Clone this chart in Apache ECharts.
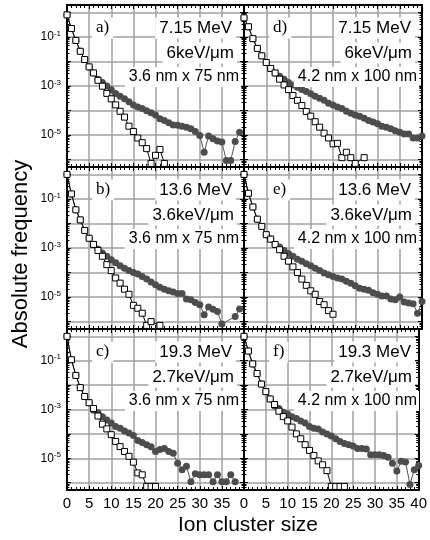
<!DOCTYPE html>
<html>
<head>
<meta charset="utf-8">
<script src="https://cdn.jsdelivr.net/npm/echarts@6/dist/echarts.min.js"></script>
<style>
  html, body { margin: 0; padding: 0; background: #fff; }
  #chart { width: 430px; height: 540px; }
</style>
</head>
<body>
<div id="chart"></div>
<script>
// ion cluster size (x)
const clusterSize = [0, 1, 2, 3, 4, 5, 6, 7, 8, 9, 10, 11, 12, 13, 14, 15, 16, 17, 18, 19, 20,
  21, 22, 23, 24, 25, 26, 27, 28, 29, 30, 31, 32, 33, 34, 35, 36, 37, 38, 39, 40];

// panel texts
const panelLetters = ["a)", "b)", "c)", "d)", "e)", "f)"];
const energies = ["7.15 MeV", "13.6 MeV", "19.3 MeV"];
const letValues = ["6keV/\u03bcm", "3.6keV/\u03bcm", "2.7keV/\u03bcm"];
const volumes = ["3.6 nm x 75 nm", "4.2 nm x 100 nm"];
const yLabelExps = [-1, -3, -5];

// open squares
const sqA = [0.79, 0.22, 0.072, 0.026, 0.012, 6.0e-3, 3.4e-3, 1.7e-3, 9.8e-4, 5.0e-4, 3.0e-4,
  1.7e-4, 9.3e-5, 5.4e-5, 2.3e-5, 1.4e-5, 7.6e-6, 4.9e-6, 2.8e-6, 7e-7, 1.5e-6, 2.6e-6, 7e-7];
const sqB = [1.0, 0.16, 0.036, 0.014, 5.2e-3, 2.5e-3, 1.4e-3, 7.9e-4, 4.6e-4, 2.1e-4, 1.2e-4,
  6.0e-5, 3.7e-5, 2.1e-5, 1.3e-5, 4.6e-6, 3.5e-6, 2.2e-6, 7e-7, 1.0e-6, null, 7e-7];
const sqC = [1.0, 0.11, 0.025, 7.9e-3, 3.4e-3, 1.9e-3, 1.1e-3, 5.4e-4, 2.5e-4, 1.6e-4, 9.3e-5,
  4.9e-5, 3.0e-5, 1.9e-5, 1.2e-5, 6.9e-6, 2.5e-6, 2.1e-6, 7e-7, 7e-7, 7e-7];
const sqD = [0.6, 0.26, 0.085, 0.034, 0.017, 9.1e-3, 5.2e-3, 3.4e-3, 1.9e-3, 1.1e-3, 7.1e-4,
  4.1e-4, 2.6e-4, 1.6e-4, 9.1e-5, 5.9e-5, 3.5e-5, 2.1e-5, 1.2e-5, 7.6e-6, 4.4e-6,
  4.6e-6, 1.2e-6, 2.0e-6, 1.2e-6, 7e-7, null, 1.2e-6];
const sqE = [1.0, 0.17, 0.047, 0.015, 7.6e-3, 3.5e-3, 2.3e-3, 1.4e-3, 8.5e-4, 4.6e-4, 2.9e-4,
  1.7e-4, 1.0e-4, 5.4e-5, 3.0e-5, 1.8e-5, 1.3e-5, 6.6e-6, 4.9e-6, 2.8e-6, 2.0e-6];
const sqF = [1.0, 0.25, 0.074, 0.030, 0.011, 5.4e-3, 2.7e-3, 1.6e-3, 8.5e-4, 5.1e-4, 3.4e-4,
  1.9e-4, 1.0e-4, 6.3e-5, 3.6e-5, 2.1e-5, 1.3e-5, 7.8e-6, 5.4e-6, 3.1e-6, 7e-7,
  7e-7, 7e-7, 7e-7];

// filled circles
const ciA = [0.79, 0.22, 0.072, 0.026, 0.012, 6.0e-3, 3.4e-3, 1.9e-3, 1.4e-3, 1.0e-3, 7.1e-4,
  5.0e-4, 3.8e-4, 3.0e-4, 2.3e-4, 1.7e-4, 1.4e-4, 1.2e-4, 9.8e-5, 8.1e-5, 6.6e-5,
  4.6e-5, 3.9e-5, 3.2e-5, 2.6e-5, 2.5e-5, 2.3e-5, 2.1e-5, 1.8e-5, 1.4e-5, 9.5e-6,
  2.0e-6, 9.1e-6, 7.1e-6, 5.8e-6, 5.2e-6, 9.3e-7, 9.3e-7, 5.5e-6, 1.3e-5];
const ciB = [1.0, 0.16, 0.036, 0.014, 5.2e-3, 2.5e-3, 1.4e-3, 9.1e-4, 6.3e-4, 4.6e-4, 3.3e-4,
  2.5e-4, 1.9e-4, 1.5e-4, 1.2e-4, 1.0e-4, 8.7e-5, 6.9e-5, 5.4e-5, 4.1e-5, 3.2e-5,
  2.5e-5, 2.1e-5, 1.8e-5, 1.6e-5, 1.4e-5, 1.4e-5, 8.3e-6, 7.8e-6, 6.0e-6, 4.9e-6,
  1.9e-6, 3.9e-6, 3.2e-6, 2.6e-6, 8e-7, null, null, 1.6e-6, 3.3e-6];
const ciC = [1.0, 0.11, 0.025, 7.9e-3, 3.4e-3, 1.9e-3, 9.3e-4, 7.4e-4, 5.1e-4, 3.7e-4, 2.8e-4,
  2.0e-4, 1.7e-4, 1.3e-4, 1.1e-4, 8.5e-5, 5.4e-5, 4.4e-5, 3.6e-5, 3.0e-5, 1.9e-5,
  2.3e-5, 2.5e-5, 1.9e-5, 1.6e-5, 6.3e-6, 3.4e-6, 4.7e-6, 1.1e-6, 2.3e-6, 2.1e-6,
  2.1e-6, 2.1e-6, 1.1e-6, 2.1e-6, 1.1e-6, 1.1e-6, 2.1e-6, 1.1e-6];
const ciD = [0.6, 0.26, 0.085, 0.034, 0.017, 9.1e-3, 5.2e-3, 3.4e-3, 2.5e-3, 1.9e-3, 1.4e-3,
  1.1e-3, 8.9e-4, 7.2e-4, 5.9e-4, 4.8e-4, 3.8e-4, 3.2e-4, 2.6e-4, 2.0e-4, 1.7e-4,
  1.4e-4, 1.2e-4, 9.3e-5, 7.8e-5, 6.6e-5, 5.8e-5, 4.9e-5, 3.9e-5, 3.4e-5, 2.9e-5,
  2.3e-5, 2.1e-5, 1.8e-5, 1.5e-5, 1.3e-5, 1.1e-5, 1.1e-5, 7.6e-6, 7.6e-6, 9.1e-6];
const ciE = [1.0, 0.17, 0.047, 0.015, 7.6e-3, 3.5e-3, 2.3e-3, 1.4e-3, 1.1e-3, 7.9e-4, 5.9e-4,
  4.6e-4, 3.5e-4, 2.9e-4, 2.3e-4, 1.9e-4, 1.5e-4, 1.2e-4, 9.5e-5, 8.1e-5, 6.9e-5,
  6.0e-5, 5.4e-5, 4.4e-5, 3.7e-5, 2.9e-5, 2.3e-5, 2.1e-5, 1.9e-5, 1.5e-5, 1.3e-5,
  1.1e-5, 1.1e-5, 8.3e-6, 7.8e-6, 1.0e-5, 6.3e-6, 5.8e-6, 5.4e-6, 2.2e-6, 6.6e-6];
const ciF = [1.0, 0.25, 0.074, 0.030, 0.011, 5.4e-3, 2.7e-3, 1.4e-3, 1.1e-3, 7.8e-4, 6.5e-4,
  5.1e-4, 4.3e-4, 3.4e-4, 2.8e-4, 2.0e-4, 1.7e-4, 1.6e-4, 1.2e-4, 1.0e-4, 8.1e-5,
  6.3e-5, 4.9e-5, 4.0e-5, 3.6e-5, 3.2e-5, 2.5e-5, 2.5e-5, 2.4e-5, 1.4e-5, 1.4e-5,
  1.4e-5, 1.3e-5, 1.1e-5, 6.3e-6, 3.0e-6, 7.6e-6, 7.1e-6, 8.5e-7, 3.4e-6, 5.0e-6];

const squares = [sqA, sqB, sqC, sqD, sqE, sqF];
const circles = [ciA, ciB, ciC, ciD, ciE, ciF];

const FONT = "Liberation Sans";
const cols = [{ left: 67, width: 177 }, { left: 244, width: 178 }];
const rows = [{ top: 5, height: 162 }, { top: 167, height: 162 }, { top: 329, height: 161 }];
const GRID_COLOR = "#a0a0a0";

const toPairs = (arr) => arr.map((v, i) => [clusterSize[i], v]);

const grid = [], xAxis = [], yAxis = [], series = [], graphic = [];

for (let c = 0; c < 2; c++) {
  for (let r = 0; r < 3; r++) {
    const p = c * 3 + r;
    grid.push({ left: cols[c].left, width: cols[c].width, top: rows[r].top, height: rows[r].height });

    const frame = { show: true, onZero: false, lineStyle: { color: "#000", width: 2 } };
    const tick = { show: true, inside: true, length: 4, lineStyle: { color: "#000", width: 1 } };

    xAxis.push({
      gridIndex: p, type: "value", min: 0, max: 40, interval: 5, position: "bottom",
      axisLine: frame, axisTick: tick,
      minorTick: { show: true, splitNumber: 5, length: 3, lineStyle: { color: "#000", width: 1 } },
      splitLine: { show: true, lineStyle: { color: GRID_COLOR, width: 1.5 } },
      axisLabel: {
        show: r === 2, color: "#000", fontFamily: FONT, fontSize: 15, margin: 6,
        formatter: (v) => (c === 0 && v === 40 ? "" : String(v))
      }
    });
    xAxis.push({
      gridIndex: p, type: "value", min: 0, max: 40, interval: 5, position: "top",
      axisLine: frame, axisTick: tick,
      minorTick: { show: true, splitNumber: 5, length: 3, lineStyle: { color: "#000", width: 1 } },
      splitLine: { show: false }, axisLabel: { show: false }
    });

    yAxis.push({
      gridIndex: p, type: "log", logBase: 10, min: 5e-7, max: 2, position: "left",
      axisLine: frame, axisTick: tick,
      minorTick: { show: true, splitNumber: 8, length: 2.5, lineStyle: { color: "#000", width: 1 } },
      splitLine: { show: true, lineStyle: { color: GRID_COLOR, width: 1.5 } },
      axisLabel: {
        show: c === 0, margin: 6,
        formatter: (v) => {
          const e = Math.round(Math.log10(v));
          if (Math.abs(Math.log10(v) - e) > 1e-6 || yLabelExps.indexOf(e) < 0) return "";
          return "{b|10}{s|" + e + "}";
        },
        rich: {
          b: { fontFamily: FONT, fontSize: 12, color: "#000" },
          s: { fontFamily: FONT, fontSize: 8, color: "#000", padding: [0, 0, 7, 0] }
        }
      }
    });
    yAxis.push({
      gridIndex: p, type: "log", logBase: 10, min: 5e-7, max: 2, position: "right",
      axisLine: frame, axisTick: tick,
      minorTick: { show: true, splitNumber: 8, length: 2.5, lineStyle: { color: "#000", width: 1 } },
      splitLine: { show: false }, axisLabel: { show: false }
    });

    series.push({
      type: "line", xAxisIndex: 2 * p, yAxisIndex: 2 * p, data: toPairs(circles[p]),
      symbol: "circle", symbolSize: 7, connectNulls: true, clip: true, z: 2,
      itemStyle: { color: "#4d4d4d" }, lineStyle: { color: "#555", width: 1 }
    });
    series.push({
      type: "line", xAxisIndex: 2 * p, yAxisIndex: 2 * p, data: toPairs(squares[p]),
      symbol: "rect", symbolSize: 6, connectNulls: true, clip: true, z: 3,
      itemStyle: { color: "#fff", borderColor: "#000", borderWidth: 1 },
      lineStyle: { color: "#000", width: 1 }
    });

    // panel annotations
    const gl = cols[c].left, gr = cols[c].left + cols[c].width, gt = rows[r].top;
    const box = { backgroundColor: "#fff", fill: "#000" };
    graphic.push({
      type: "text", x: gl + 25, y: gt + 23, z: 100,
      style: Object.assign({ text: panelLetters[p], font: "17px 'Liberation Serif'", align: "left",
        verticalAlign: "middle", padding: [2, 4, 2, 4] }, box)
    });
    graphic.push({
      type: "text", x: gr - (c === 0 ? 8 : 7), y: gt + 23, z: 100,
      style: Object.assign({ text: energies[r], font: "17px '" + FONT + "'", align: "right",
        verticalAlign: "middle", padding: [2, 4, 2, 4] }, box)
    });
    graphic.push({
      type: "text", x: gr - 7, y: gt + 48, z: 100,
      style: Object.assign({ text: letValues[r], font: "17px '" + FONT + "'", align: "right",
        verticalAlign: "middle", padding: [2, 3, 2, 4] }, box)
    });
    graphic.push({
      type: "text", x: gr - 3, y: gt + 72, z: 100,
      style: Object.assign({ text: volumes[c], font: "16px '" + FONT + "'", align: "right",
        verticalAlign: "middle", padding: [2, 2, 2, 4] }, box)
    });
  }
}

graphic.push({
  type: "text", x: 21, y: 254, rotation: Math.PI / 2, z: 100,
  style: { text: "Absolute frequency", font: "22px '" + FONT + "'", fill: "#000",
    align: "center", verticalAlign: "middle" }
});
graphic.push({
  type: "text", x: 248, y: 525, z: 100,
  style: { text: "Ion cluster size", font: "21px '" + FONT + "'", fill: "#000",
    align: "center", verticalAlign: "middle" }
});

const chart = echarts.init(document.getElementById("chart"));
chart.setOption({
  animation: false,
  backgroundColor: "#fff",
  grid, xAxis, yAxis, series, graphic
});
</script>
</body>
</html>
